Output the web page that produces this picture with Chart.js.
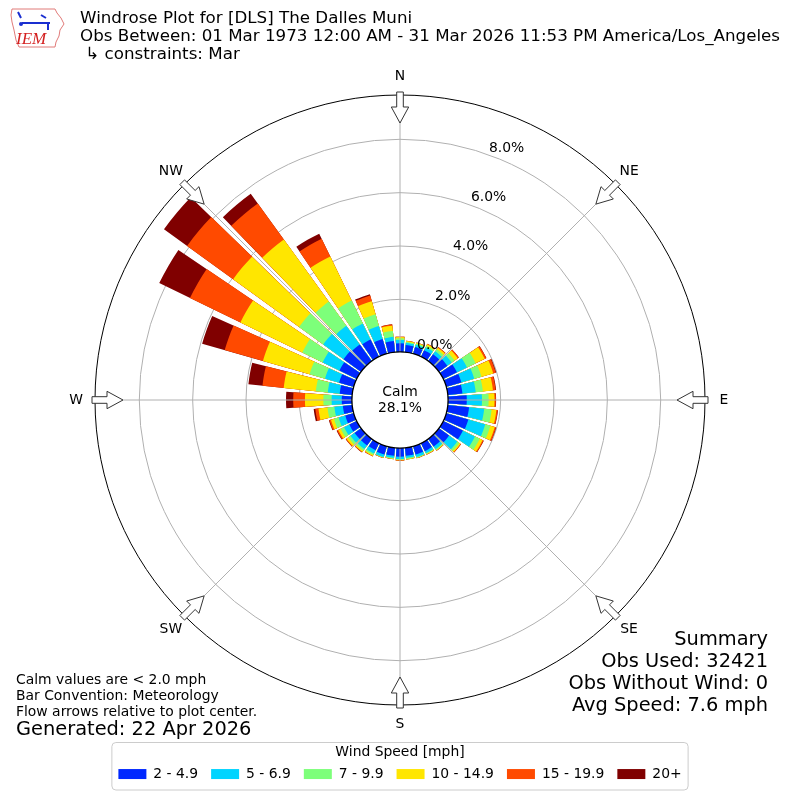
<!DOCTYPE html>
<html>
<head>
<meta charset="utf-8">
<script src="https://cdn.jsdelivr.net/npm/chart.js@4.4.1/dist/chart.umd.min.js"></script>
<style>
  html, body { margin: 0; padding: 0; background: #fff; }
</style>
</head>
<body>
<canvas id="windrose" width="800" height="800"></canvas>
<script>
// Windrose for DLS (The Dalles), March obs only

const FONT = "'DejaVu Sans', sans-serif";

const directions = [0, 10, 20, 30, 40, 50, 60, 70, 80, 90, 100, 110, 120, 130, 140, 150, 160, 170,
                    180, 190, 200, 210, 220, 230, 240, 250, 260, 270, 280, 290, 300, 310, 320, 330, 340, 350];
const speedBins = ['2 - 4.9', '5 - 6.9', '7 - 9.9', '10 - 14.9', '15 - 19.9', '20+'];
const binColors = ['#0028ff', '#00d4ff', '#7dff7a', '#ffe600', '#ff4a00', '#800000'];

// percent of all obs, per direction, one array per speed bin
const speed2to5 = [0.35, 0.30, 0.29, 0.30, 0.34, 0.42, 0.60, 0.62, 0.58, 0.73, 0.83, 0.89, 0.85, 0.50, 0.38, 0.36, 0.35, 0.33,
                   0.35, 0.33, 0.35, 0.32, 0.33, 0.33, 0.34, 0.36, 0.38, 0.41, 0.50, 0.60, 0.75, 0.84, 0.80, 0.75, 0.60, 0.45];
const speed5to7 = [0.13, 0.08, 0.09, 0.12, 0.14, 0.20, 0.42, 0.50, 0.50, 0.57, 0.57, 0.66, 0.50, 0.38, 0.12, 0.09, 0.10, 0.08,
                   0.09, 0.08, 0.10, 0.14, 0.17, 0.19, 0.22, 0.26, 0.32, 0.38, 0.45, 0.55, 0.70, 0.94, 0.86, 0.67, 0.51, 0.16];
const speed7to10 = [0.06, 0.04, 0.05, 0.07, 0.09, 0.13, 0.36, 0.28, 0.27, 0.25, 0.28, 0.20, 0.20, 0.09, 0.04, 0.03, 0.03, 0.04,
                    0.03, 0.03, 0.02, 0.06, 0.08, 0.10, 0.14, 0.18, 0.26, 0.31, 0.45, 0.60, 0.85, 1.12, 1.12, 0.95, 0.46, 0.22];
const speed10to15 = [0.05, 0.03, 0.03, 0.06, 0.08, 0.15, 0.38, 0.46, 0.38, 0.22, 0.18, 0.17, 0.12, 0.06, 0.02, 0.02, 0.01, 0.02,
                     0.02, 0.01, 0.01, 0.04, 0.05, 0.08, 0.10, 0.12, 0.34, 0.69, 1.21, 1.82, 2.58, 3.05, 2.87, 1.84, 0.51, 0.20];
const speed15to20 = [0.01, 0.01, 0.01, 0.02, 0.03, 0.05, 0.06, 0.10, 0.10, 0.05, 0.05, 0.05, 0.04, 0.02, 0.01, 0.01, 0.01, 0.00,
                     0.01, 0.01, 0.01, 0.02, 0.02, 0.03, 0.05, 0.06, 0.12, 0.44, 0.80, 1.49, 2.10, 2.13, 1.67, 0.74, 0.22, 0.04];
const speed20up = [0.00, 0.00, 0.00, 0.00, 0.00, 0.00, 0.01, 0.02, 0.02, 0.01, 0.01, 0.01, 0.01, 0.00, 0.00, 0.00, 0.00, 0.00,
                   0.00, 0.00, 0.00, 0.00, 0.01, 0.01, 0.02, 0.02, 0.06, 0.27, 0.53, 0.88, 1.28, 1.07, 0.45, 0.21, 0.05, 0.01];

const ringTicks = [0, 2, 4, 6, 8];
const compassPoints = ['N', 'NE', 'E', 'SE', 'S', 'SW', 'W', 'NW'];
const calmPct = 28.1;

const titleLines = [
    'Windrose Plot for [DLS] The Dalles Muni',
    'Obs Between: 01 Mar 1973 12:00 AM - 31 Mar 2026 11:53 PM America/Los_Angeles',
    ' \u21B3 constraints: Mar'
];
const summaryLines = ['Summary', 'Obs Used: 32421', 'Obs Without Wind: 0', 'Avg Speed: 7.6 mph'];
const noteLines = ['Calm values are < 2.0 mph', 'Bar Convention: Meteorology', 'Flow arrows relative to plot center.'];
const generatedLine = 'Generated: 22 Apr 2026';

// radial axis: the calm circle sits inside 0%, edge of plot is ~9.66%
const rMin = -1.773;
const rMax = 9.661;
const barWidth = 8.2;
const gapWidth = 10 - barWidth;

// polarArea draws from the centre, so stack by drawing cumulative totals
// (dataset 0 ends up on top). A zero slot after each bar makes the gap.
const binSeries = [speed2to5, speed5to7, speed7to10, speed10to15, speed15to20, speed20up];
const running = directions.map(() => 0);
const datasets = binSeries.map((vals, b) => {
    const data = [];
    vals.forEach((v, i) => {
        running[i] += v;
        data.push(+running[i].toFixed(3), 0);
    });
    return {
        label: speedBins[b],
        data: data,
        backgroundColor: binColors[b],
        borderWidth: 0,
        angle: ctx => (ctx.dataIndex % 2 === 0 ? barWidth : gapWidth)
    };
});
const labels = directions.flatMap(d => [d + '\u00B0', '']);

function drawArrow(ctx, cx, cy, deg) {
    const a = deg * Math.PI / 180;
    const ux = Math.sin(a), uy = -Math.cos(a);
    const vx = Math.cos(a), vy = Math.sin(a);
    const pts = [[308, -3.3], [293, -3.3], [293, -8.7], [277, 0], [293, 8.7], [293, 3.3], [308, 3.3]];
    ctx.beginPath();
    pts.forEach(([r, p], i) => {
        const x = cx + r * ux + p * vx;
        const y = cy + r * uy + p * vy;
        if (i === 0) ctx.moveTo(x, y); else ctx.lineTo(x, y);
    });
    ctx.closePath();
    ctx.fillStyle = '#fff';
    ctx.fill();
    ctx.strokeStyle = '#333';
    ctx.lineWidth = 1;
    ctx.stroke();
}

function drawLogo(ctx) {
    ctx.save();
    ctx.beginPath();
    const outline = [[12, 9], [55, 9], [57, 13], [61, 18], [64, 24], [60, 30], [59, 36], [56, 42], [55, 47],
                     [19, 47], [16, 40], [14, 30], [12, 22], [11, 15]];
    outline.forEach(([x, y], i) => (i === 0 ? ctx.moveTo(x, y) : ctx.lineTo(x, y)));
    ctx.closePath();
    ctx.strokeStyle = '#e07a78';
    ctx.lineWidth = 1;
    ctx.stroke();
    ctx.strokeStyle = '#1a2fd0';
    ctx.fillStyle = '#1a2fd0';
    ctx.lineWidth = 2;
    ctx.beginPath();
    ctx.moveTo(22, 23); ctx.lineTo(50, 23);
    ctx.moveTo(18, 12); ctx.lineTo(21, 18);
    ctx.moveTo(41, 15); ctx.lineTo(46, 18);
    ctx.moveTo(48, 23); ctx.lineTo(48, 30);
    ctx.stroke();
    ctx.beginPath();
    ctx.arc(21, 24, 2, 0, Math.PI * 2);
    ctx.fill();
    ctx.font = "italic 17px 'Liberation Serif', serif";
    ctx.fillStyle = '#d42020';
    ctx.textAlign = 'left';
    ctx.textBaseline = 'alphabetic';
    ctx.fillText('IEM', 16, 44);
    ctx.restore();
}

const decorations = {
    id: 'decorations',
    afterDraw(chart) {
        const ctx = chart.ctx;
        const scale = chart.scales.r;
        const cx = scale.xCenter, cy = scale.yCenter;
        const outer = scale.drawingArea;
        const calmR = scale.getDistanceFromCenterForValue(0);
        ctx.save();

        // compass spokes
        ctx.strokeStyle = '#b0b0b0';
        ctx.lineWidth = 1;
        compassPoints.forEach((p, k) => {
            const a = k * Math.PI / 4;
            ctx.beginPath();
            ctx.moveTo(cx + calmR * Math.sin(a), cy - calmR * Math.cos(a));
            ctx.lineTo(cx + outer * Math.sin(a), cy - outer * Math.cos(a));
            ctx.stroke();
        });

        // outer edge
        ctx.beginPath();
        ctx.arc(cx, cy, outer, 0, Math.PI * 2);
        ctx.strokeStyle = '#000';
        ctx.lineWidth = 1;
        ctx.stroke();

        // calm circle
        ctx.beginPath();
        ctx.arc(cx, cy, calmR + 0.8, 0, Math.PI * 2);
        ctx.fillStyle = '#fff';
        ctx.fill();
        ctx.strokeStyle = '#000';
        ctx.lineWidth = 1.3;
        ctx.stroke();

        ctx.fillStyle = '#000';
        ctx.textAlign = 'center';
        ctx.textBaseline = 'middle';
        ctx.font = '13.9px ' + FONT;
        ctx.fillText('Calm', cx, cy - 8);
        ctx.fillText(calmPct.toFixed(1) + '%', cx, cy + 8);

        // ring labels
        const la = 22.5 * Math.PI / 180;
        ringTicks.forEach(v => {
            const R = scale.getDistanceFromCenterForValue(v);
            const x = cx + R * Math.sin(la) + 16.6 - (R - calmR) * 0.0455;
            const y = cy - R * Math.cos(la) - 11;
            ctx.fillText(v.toFixed(1) + '%', x, y);
        });

        // direction arrows + labels
        compassPoints.forEach((p, k) => {
            drawArrow(ctx, cx, cy, k * 45);
            const a = k * Math.PI / 4;
            ctx.fillStyle = '#000';
            ctx.fillText(p, cx + 324 * Math.sin(a), cy - 324 * Math.cos(a));
        });

        // legend frame
        const lg = chart.legend;
        if (lg && lg.legendHitBoxes.length) {
            const boxes = lg.legendHitBoxes;
            const left = Math.min(...boxes.map(b => b.left)) - 6.5;
            const right = Math.max(...boxes.map(b => b.left + b.width)) + 6.5;
            ctx.beginPath();
            ctx.roundRect(left, lg.top + 0.5, right - left, lg.height - 1.5, 4);
            ctx.strokeStyle = '#cccccc';
            ctx.lineWidth = 1;
            ctx.stroke();
        }

        // titles
        ctx.textAlign = 'left';
        ctx.fillStyle = '#000';
        ctx.font = '16.7px ' + FONT;
        titleLines.forEach((t, i) => ctx.fillText(t, 80, 19 + i * 18));

        ctx.font = '13.9px ' + FONT;
        noteLines.forEach((t, i) => ctx.fillText(t, 16, 680 + i * 16));
        ctx.font = '19.4px ' + FONT;
        ctx.fillText(generatedLine, 16, 730);

        ctx.textAlign = 'right';
        summaryLines.forEach((t, i) => ctx.fillText(t, 768, 640 + i * 22));

        drawLogo(ctx);
        ctx.restore();
    }
};

new Chart(document.getElementById('windrose').getContext('2d'), {
    type: 'polarArea',
    data: { labels: labels, datasets: datasets },
    options: {
        responsive: false,
        animation: false,
        devicePixelRatio: 1,
        layout: { padding: { top: 58, left: 95, right: 95, bottom: 9 } },
        scales: {
            r: {
                min: rMin,
                max: rMax,
                startAngle: -barWidth / 2,
                z: 1,
                ticks: { display: false },
                grid: { color: '#b0b0b0', lineWidth: 1 },
                afterBuildTicks: scale => {
                    scale.ticks = ringTicks.map(v => ({ value: v }));
                }
            }
        },
        plugins: {
            legend: {
                position: 'bottom',
                onClick: null,
                title: {
                    display: true,
                    text: 'Wind Speed [mph]',
                    color: '#000',
                    font: { family: FONT, size: 13.9 },
                    padding: { top: 3, bottom: -7.6 }
                },
                labels: {
                    color: '#000',
                    font: { family: FONT, size: 13.9 },
                    boxWidth: 28,
                    boxHeight: 10,
                    padding: 13,
                    generateLabels: chart => chart.data.datasets.map((ds, i) => ({
                        text: ds.label,
                        fillStyle: ds.backgroundColor,
                        strokeStyle: ds.backgroundColor,
                        lineWidth: 0,
                        hidden: false,
                        datasetIndex: i
                    }))
                }
            },
            tooltip: { enabled: false }
        }
    },
    plugins: [decorations]
});
</script>
</body>
</html>
